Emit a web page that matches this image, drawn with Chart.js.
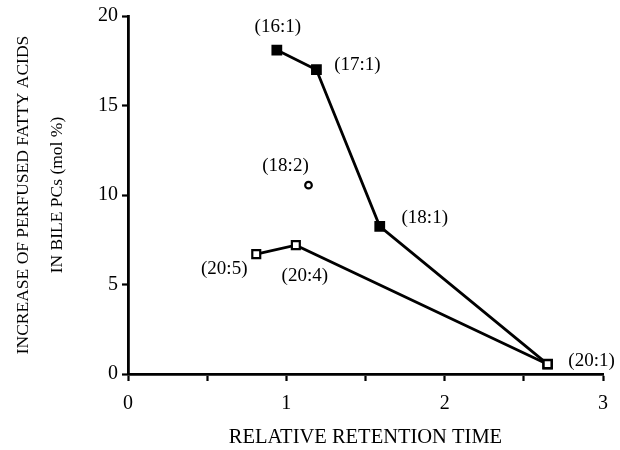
<!DOCTYPE html>
<html>
<head>
<meta charset="utf-8">
<script src="https://cdn.jsdelivr.net/npm/chart.js@4/dist/chart.umd.min.js"></script>
<style>
html,body{margin:0;padding:0;background:#fff;}
#wrap{width:620px;height:450px;position:relative;}
</style>
</head>
<body>
<div id="wrap"><canvas id="c" width="620" height="450"></canvas></div>
<script>
// Data
const seriesAx = [0.94, 1.19, 1.59, 2.65];
const seriesAy = [18.1, 17.0, 8.25, 0.55];
const seriesAnames = ['(16:1)', '(17:1)', '(18:1)', '(20:1)'];
const seriesAfilled = [true, true, true, false];

const seriesBx = [0.81, 1.06, 2.65];
const seriesBy = [6.7, 7.2, 0.55];
const seriesBnames = ['(20:5)', '(20:4)', ''];

const singleX = [1.14];
const singleY = [10.55];
const singleNames = ['(18:2)'];

const xTicks = [0, 1, 2, 3];
const yTicks = [0, 5, 10, 15, 20];

const toPts = (xs, ys) => xs.map((x, i) => ({x: x, y: ys[i]}));

// label offsets (pixels) relative to each point
const labelOffsets = {
  '(16:1)': [1, -23],
  '(17:1)': [41, -5],
  '(18:1)': [45, -8],
  '(20:1)': [44, -3],
  '(20:5)': [-32, 15],
  '(20:4)': [9, 31],
  '(18:2)': [-23, -19]
};

const serif = '"Liberation Serif", "Times New Roman", serif';

const labelPlugin = {
  id: 'pointLabels',
  afterDatasetsDraw(chart) {
    const ctx = chart.ctx;
    ctx.save();
    ctx.font = '19px ' + serif;
    ctx.fillStyle = '#000';
    ctx.textAlign = 'center';
    ctx.textBaseline = 'middle';
    chart.data.datasets.forEach((ds, di) => {
      const meta = chart.getDatasetMeta(di);
      (ds.names || []).forEach((name, i) => {
        if (!name) return;
        const el = meta.data[i];
        const off = labelOffsets[name] || [0, 0];
        ctx.fillText(name, el.x + off[0], el.y + off[1]);
      });
    });
    ctx.restore();
  }
};

new Chart(document.getElementById('c'), {
  type: 'scatter',
  data: {
    datasets: [
      {
        data: toPts(seriesAx, seriesAy),
        names: seriesAnames,
        showLine: true,
        borderColor: '#000',
        borderWidth: 2.8,
        pointStyle: 'rect',
        pointRadius: 6.2,
        pointBorderWidth: 2,
        pointBorderColor: '#000',
        pointBackgroundColor: seriesAfilled.map(f => f ? '#000' : '#fff'),
        order: 2
      },
      {
        data: toPts(seriesBx, seriesBy),
        names: seriesBnames,
        showLine: true,
        borderColor: '#000',
        borderWidth: 2.8,
        pointStyle: 'rect',
        pointRadius: 5.6,
        pointBorderWidth: 2.2,
        pointBorderColor: '#000',
        pointBackgroundColor: '#fff',
        order: 1
      },
      {
        data: toPts(singleX, singleY),
        names: singleNames,
        showLine: false,
        pointStyle: 'circle',
        pointRadius: 3.3,
        pointBorderWidth: 2.2,
        pointBorderColor: '#000',
        pointBackgroundColor: '#fff',
        order: 0
      }
    ]
  },
  options: {
    responsive: false,
    animation: false,
    layout: {padding: {left: 0, right: 17, top: 16, bottom: 0}},
    plugins: {legend: {display: false}, tooltip: {enabled: false}},
    scales: {
      x: {
        type: 'linear',
        min: 0, max: 3,
        afterBuildTicks(scale) {
          const t = [];
          xTicks.forEach((v, i) => { t.push({value: v}); if (i < xTicks.length - 1) t.push({value: v + 0.5}); });
          scale.ticks = t;
        },
        afterFit(scale) { scale.height = 76; },
        grid: {
          display: true,
          drawOnChartArea: false,
          drawTicks: true,
          tickLength: 7,
          tickColor: '#000',
          tickWidth: 2.2
        },
        border: {display: true, color: '#000', width: 2.8},
        ticks: {
          color: '#000',
          font: {family: serif, size: 20},
          padding: 11,
          maxRotation: 0,
          autoSkip: false,
          callback: (v) => (Number.isInteger(v) ? String(v) : '')
        },
        title: {
          display: true,
          text: 'RELATIVE RETENTION TIME',
          color: '#000',
          font: {family: serif, size: 20.5},
          padding: {top: 0, bottom: 0}
        }
      },
      y: {
        type: 'linear',
        min: 0, max: 20,
        afterBuildTicks(scale) { scale.ticks = yTicks.map(v => ({value: v})); },
        afterFit(scale) { scale.width = 128; },
        grid: {
          display: true,
          drawOnChartArea: false,
          drawTicks: true,
          tickLength: 6,
          tickColor: '#000',
          tickWidth: 2.2
        },
        border: {display: true, color: '#000', width: 2.8},
        ticks: {
          color: '#000',
          font: {family: serif, size: 20},
          padding: 4
        },
        title: {
          display: true,
          text: ['INCREASE OF PERFUSED FATTY ACIDS', 'IN BILE PCs (mol %)'],
          color: '#000',
          font: {family: serif, size: 17.5, lineHeight: 1.95},
          padding: {top: 6, bottom: 0}
        }
      }
    }
  },
  plugins: [labelPlugin]
});
</script>
</body>
</html>
